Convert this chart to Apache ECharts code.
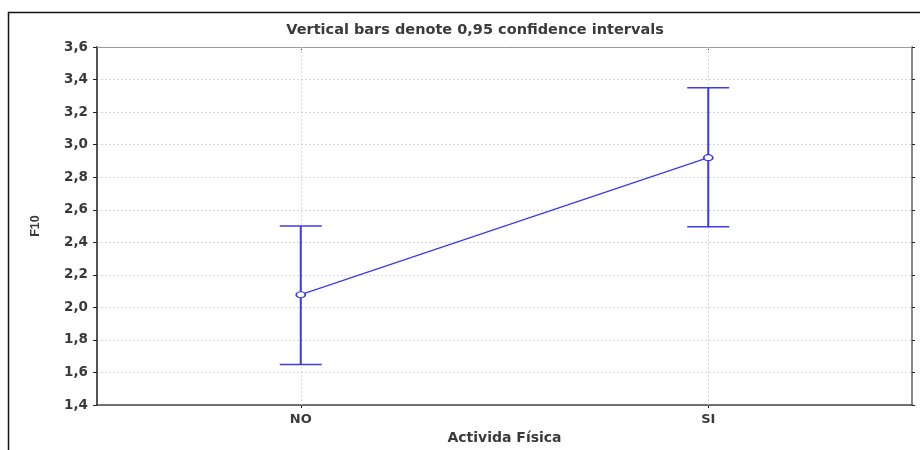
<!DOCTYPE html>
<html><head><meta charset="utf-8">
<script src="https://cdn.jsdelivr.net/npm/echarts@6/dist/echarts.min.js"></script>
<style>html,body{margin:0;padding:0;background:#fff}#c{width:920px;height:450px}</style>
</head><body><div id="c"></div>
<script>
var categories = ['NO', 'SI'];
var means = [2.078, 2.92];
var lower = [1.65, 2.495];
var upper = [2.50, 3.35];
var yTicks = [1.4, 1.6, 1.8, 2.0, 2.2, 2.4, 2.6, 2.8, 3.0, 3.2, 3.4, 3.6];

var blue = '#3a3af0';
var chart = echarts.init(document.getElementById('c'), null, {renderer: 'canvas'});
var wfont = 'DejaVu Sans, Verdana, sans-serif';
var nfont = 'Liberation Sans, Arial, sans-serif';
var tcol = '#3a3a3a';
var ciData = categories.map(function (c, i) { return [i, lower[i], upper[i]]; });

chart.setOption({
  animation: false,
  title: {
    text: 'Vertical bars denote 0,95 confidence intervals',
    left: 470, top: 18, textAlign: 'center',
    textStyle: {fontSize: 14.5, fontWeight: 'bold', color: tcol, fontFamily: wfont}
  },
  graphic: [
    {type: 'polyline', shape: {points: [[8.5, 460], [8.5, 12.5], [920, 12.5]]},
     style: {stroke: '#111', lineWidth: 1.5, fill: null}, silent: true}
  ],
  grid: {left: 97, right: 8, top: 47, bottom: 43, show: false},
  xAxis: [{
    type: 'category', data: categories, boundaryGap: true,
    name: 'Activida Física', nameLocation: 'middle', nameGap: 24,
    nameTextStyle: {fontSize: 14, fontWeight: 'bold', color: tcol, fontFamily: wfont},
    axisLine: {show: true, lineStyle: {color: '#444', width: 1.5}},
    axisTick: {show: true, alignWithLabel: true, length: 3, lineStyle: {color: '#222'}},
    axisLabel: {fontSize: 13, fontWeight: 'bold', color: tcol, fontFamily: wfont, margin: 8},
    splitLine: {show: false}
  }, {
    type: 'category', data: categories, boundaryGap: true, position: 'top',
    axisLine: {show: true, lineStyle: {color: '#999', width: 1}},
    axisTick: {show: true, alignWithLabel: true, length: 3, inside: true, lineStyle: {color: '#222'}},
    axisLabel: {show: false}, splitLine: {show: false}
  }],
  yAxis: [{
    type: 'value', min: 1.4, max: 3.6, interval: 0.2,
    name: 'F10', nameLocation: 'middle', nameGap: 55, nameRotate: 90,
    nameTextStyle: {fontSize: 12.5, fontWeight: 'bold', color: tcol, fontFamily: nfont},
    axisLine: {show: true, lineStyle: {color: '#555', width: 2}},
    axisTick: {show: true, length: 4, lineStyle: {color: '#222'}},
    axisLabel: {fontSize: 13.5, fontWeight: 'bold', color: tcol, fontFamily: wfont, margin: 9,
      formatter: function (v) {
        var t = yTicks.filter(function (k) { return Math.abs(k - v) < 1e-6; });
        return t.length ? t[0].toFixed(1).replace('.', ',') : '';
      }},
    splitLine: {show: true, lineStyle: {color: '#d8d8d8', type: [2, 2], width: 1}}
  }, {
    type: 'value', min: 1.4, max: 3.6, interval: 0.2, position: 'right',
    axisLine: {show: true, lineStyle: {color: '#888', width: 2}},
    axisTick: {show: true, length: 3, lineStyle: {color: '#222'}},
    axisLabel: {show: false}, splitLine: {show: false}
  }],
  series: [{
    type: 'custom',
    data: ciData,
    renderItem: function (params, api) {
      var x = api.value(0);
      var lo = api.coord([x, api.value(1)]);
      var hi = api.coord([x, api.value(2)]);
      var w = 21;
      var cap = {stroke: blue, lineWidth: 1.5};
      return {type: 'group', children: [
        {type: 'line', shape: {x1: lo[0], y1: lo[1], x2: hi[0], y2: hi[1]}, style: {stroke: blue, lineWidth: 2}},
        {type: 'line', shape: {x1: lo[0] - w, y1: lo[1], x2: lo[0] + w, y2: lo[1]}, style: cap},
        {type: 'line', shape: {x1: hi[0] - w, y1: hi[1], x2: hi[0] + w, y2: hi[1]}, style: cap}
      ]};
    },
    z: 2
  }, {
    type: 'line',
    data: means,
    symbol: 'circle', symbolSize: [9, 6], showSymbol: true,
    lineStyle: {color: blue, width: 1.3},
    itemStyle: {color: '#fff', borderColor: blue, borderWidth: 1.5},
    markLine: {
      silent: true, symbol: 'none', label: {show: false},
      lineStyle: {color: '#d8d8d8', type: [2, 2], width: 1},
      data: categories.map(function (c) { return {xAxis: c}; }),
      z: 1
    },
    z: 3
  }]
});
</script></body></html>
